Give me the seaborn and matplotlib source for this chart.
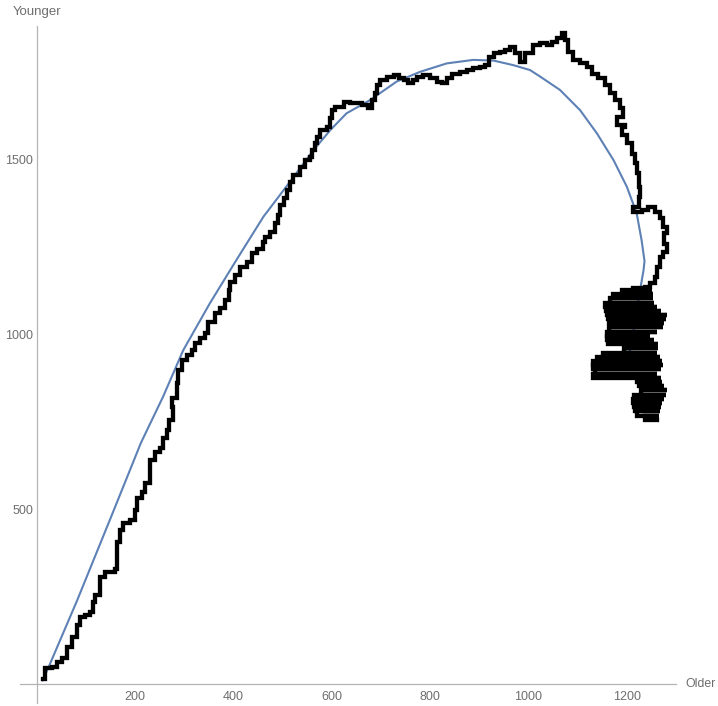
import seaborn as sns
import pandas as pd
import matplotlib.pyplot as plt
from matplotlib.ticker import FixedLocator

# smooth fitted curve (blue)
curve_x = [12, 27, 82, 151, 212, 257, 298, 352, 406, 461, 515, 563, 597, 630, 678,
           732, 780, 834, 888, 929, 969, 1003, 1024, 1064, 1105, 1139, 1173, 1200,
           1220, 1230, 1236, 1234, 1227, 1207, 1193]
curve_y = [9, 57, 238, 477, 690, 822, 955, 1089, 1213, 1337, 1437, 1528, 1585, 1633, 1671,
           1724, 1752, 1776, 1786, 1784, 1771, 1757, 1738, 1700, 1642, 1576, 1499, 1423,
           1347, 1270, 1210, 1184, 1127, 955, 932]

# walk (black), traced along its path
walk_x = [12, 17, 31, 41, 51, 61, 71, 81, 88, 98, 108, 114, 118, 129, 139, 159, 163, 163,
          169, 176, 190, 200, 203, 214, 220, 230, 241, 251, 257, 264, 268, 278, 275, 285,
          288, 295, 305, 315, 322, 332, 342, 349, 363, 373, 383, 390, 393, 403, 413, 427,
          437, 447, 461, 464, 475, 485, 491, 495, 502, 508, 515, 522, 536, 546, 556, 559,
          566, 569, 576, 590, 597, 600, 606, 617, 624, 637, 647, 661, 674, 681, 688, 692,
          698, 712, 726, 736, 746, 756, 766, 773, 786, 800, 814, 824, 834, 844, 861, 875,
          888, 902, 912, 919, 929, 942, 953, 963, 973, 983, 993, 1010, 1024, 1037, 1047,
          1058, 1068, 1074, 1081, 1091, 1105, 1118, 1129, 1142, 1156, 1166, 1176, 1186,
          1193, 1180, 1196, 1190, 1200, 1210, 1217, 1220, 1224, 1227, 1224, 1213, 1231,
          1244, 1257, 1268, 1274, 1281, 1276, 1281, 1274, 1268, 1261, 1257, 1247, 1237,
          1213, 1251, 1190, 1253, 1172, 1253, 1165, 1255, 1156, 1261, 1158, 1270, 1160,
          1282, 1162, 1280, 1164, 1276, 1166, 1274, 1163, 1262, 1160, 1247, 1160, 1255,
          1162, 1264, 1200, 1264, 1195, 1262, 1152, 1268, 1140, 1272, 1131, 1274, 1131,
          1270, 1135, 1262, 1131, 1270, 1221, 1271, 1225, 1275, 1231, 1282, 1228, 1280,
          1215, 1275, 1212, 1271, 1214, 1270, 1216, 1267, 1220, 1265, 1237, 1261]
walk_y = [15, 44, 49, 63, 73, 106, 135, 168, 192, 197, 206, 235, 254, 306, 321, 330, 359, 407,
          440, 459, 469, 497, 531, 550, 574, 640, 664, 674, 703, 726, 755, 793, 817, 860,
          898, 927, 941, 955, 975, 989, 1003, 1036, 1060, 1075, 1098, 1127, 1151, 1170, 1194, 1208,
          1232, 1246, 1265, 1280, 1294, 1318, 1342, 1370, 1390, 1413, 1437, 1456, 1480, 1499, 1509, 1528,
          1547, 1566, 1585, 1595, 1619, 1642, 1650, 1652, 1666, 1662, 1662, 1657, 1647, 1671, 1690, 1714,
          1728, 1738, 1743, 1733, 1728, 1719, 1728, 1738, 1743, 1733, 1724, 1719, 1733, 1747, 1752, 1757,
          1762, 1766, 1771, 1795, 1805, 1809, 1814, 1824, 1805, 1781, 1805, 1828, 1833, 1828, 1838,
          1848, 1862, 1843, 1809, 1786, 1776, 1766, 1747, 1733, 1714, 1690, 1671, 1647,
          1623, 1599, 1594, 1570, 1547, 1518, 1490, 1461, 1423, 1394, 1366, 1351, 1356,
          1366, 1351, 1332, 1308, 1290, 1260, 1235, 1222, 1194, 1165, 1146, 1137, 1132,
          1127, 1127, 1115, 1115, 1103, 1103, 1091, 1091, 1080, 1080, 1068, 1068, 1056,
          1056, 1044, 1044, 1032, 1032, 1020, 1020, 1008, 1008, 996, 996, 984, 984,
          972, 972, 960, 960, 948, 948, 936, 936, 924, 924, 912, 912, 900,
          900, 888, 888, 876, 876, 864, 864, 852, 852, 840, 840, 828, 828,
          816, 816, 804, 804, 792, 792, 780, 780, 768, 768, 756, 756]

x_major = [200, 400, 600, 800, 1000, 1200]
y_major = [500, 1000, 1500]

curve = pd.DataFrame({'Older': curve_x, 'Younger': curve_y})
walk = pd.DataFrame({'Older': walk_x, 'Younger': walk_y})

sns.set_style('white')
plt.rcParams['font.family'] = ['Liberation Sans', 'DejaVu Sans']

axis_col = '#b4b4b4'
text_col = '#6e6e6e'

fig = plt.figure(figsize=(7.18, 7.06), dpi=100)
ax = fig.add_axes([20 / 718, 3 / 706, 656 / 718, 677 / 706])

sns.lineplot(data=curve, x='Older', y='Younger', sort=False, estimator=None,
             color='#5E81B5', linewidth=1.5, ax=ax)
sns.lineplot(data=walk, x='Older', y='Younger', sort=False, estimator=None,
             color='black', linewidth=3.1, drawstyle='steps-post', ax=ax,
             solid_joinstyle='miter', solid_capstyle='projecting')

ax.set_xlim(-34, 1300)
ax.set_ylim(-55, 1883)

for s in ['top', 'right']:
    ax.spines[s].set_visible(False)
for s in ['left', 'bottom']:
    ax.spines[s].set_position(('data', 0))
    ax.spines[s].set_color(axis_col)
    ax.spines[s].set_linewidth(0.9)

ax.xaxis.set_major_locator(FixedLocator(x_major))
ax.yaxis.set_major_locator(FixedLocator(y_major))
ax.xaxis.set_minor_locator(FixedLocator([v for v in range(50, 1301, 50) if v not in x_major]))
ax.yaxis.set_minor_locator(FixedLocator([v for v in range(100, 1801, 100) if v not in y_major]))
ax.tick_params(which='both', direction='in', color=axis_col, width=0.8,
               labelcolor=text_col, labelsize=9)
ax.tick_params(which='major', length=3.2)
ax.tick_params(which='minor', length=2.2)
ax.tick_params(axis='x', which='major', pad=5)
ax.tick_params(axis='y', which='major', pad=2.5)
ax.set_xlabel('')
ax.set_ylabel('')

ax.annotate('Older', xy=(1, 0), xycoords=('axes fraction', 'data'),
            xytext=(7, 0), textcoords='offset points', ha='left', va='center',
            color=text_col, fontsize=8.8, annotation_clip=False)
ax.annotate('Younger', xy=(0, 1), xycoords=('data', 'axes fraction'),
            xytext=(0, 10), textcoords='offset points', ha='center', va='center',
            color=text_col, fontsize=9.5, annotation_clip=False)

fig.savefig('out.png', dpi=100)
